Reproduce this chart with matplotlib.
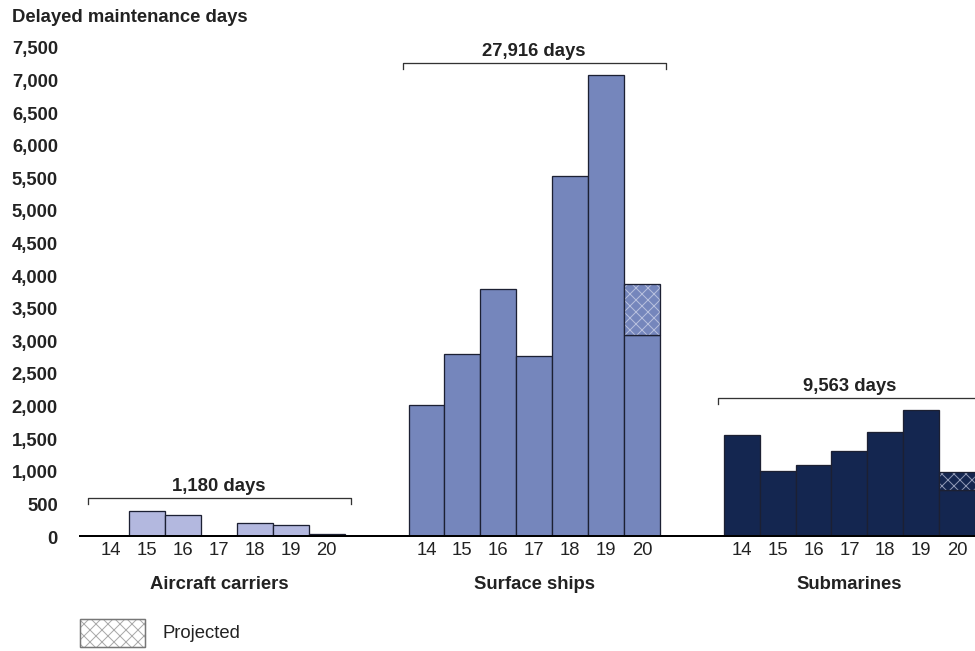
import numpy as np
import matplotlib.pyplot as plt
from matplotlib.patches import Rectangle

plt.rcParams["font.family"] = ["Liberation Sans", "DejaVu Sans"]

years = ["14", "15", "16", "17", "18", "19", "20"]
groups = ["Aircraft carriers", "Surface ships", "Submarines"]
totals = ["1,180 days", "27,916 days", "9,563 days"]

carriers = [0, 400, 340, 0, 210, 180, 50]
surface = [2030, 2800, 3810, 2770, 5530, 7090, 3100]
subs = [1560, 1015, 1110, 1320, 1605, 1955, 715]
# projected part stacked on the last year
carriers_proj = [0, 0, 0, 0, 0, 0, 0]
surface_proj = [0, 0, 0, 0, 0, 0, 786]
subs_proj = [0, 0, 0, 0, 0, 0, 283]

colors = ["#b3b8df", "#7586bc", "#142650"]
edge = "#1c2033"
hatch_col = ["#d6d9ee", "#b7bfdd", "#8f98b5"]

group_step = 8.78
bracket_y = [598, 7271, 2132]
label_y = [767, 7440, 2301]
fs = 18.5

fig = plt.figure(figsize=(975 / 72, 651 / 72), dpi=72)
ax = fig.add_axes([79 / 975, 1 - 537 / 651, 1 - 79 / 975, (537 - 48) / 651])

xt = []
for g, (vals, proj) in enumerate([(carriers, carriers_proj), (surface, surface_proj), (subs, subs_proj)]):
    x = np.arange(7) + g * group_step
    xt.extend(x)
    ax.bar(x, vals, width=1, color=colors[g], edgecolor=edge, linewidth=1.3, zorder=2)
    p = np.array(proj)
    m = p > 0
    if m.any():
        ax.bar(x[m], p[m], bottom=np.array(vals)[m], width=1, color=colors[g],
               edgecolor=hatch_col[g], hatch="xx", linewidth=0, zorder=2)
        ax.bar(x[m], p[m], bottom=np.array(vals)[m], width=1, fill=False,
               edgecolor=edge, linewidth=1.3, zorder=3)

    # bracket with total
    x0, x1 = x[0] - 0.65, x[-1] + 0.67
    by = bracket_y[g]
    ax.plot([x0, x0, x1, x1], [by - 92, by, by, by - 92], color="#333333", lw=1.3,
            clip_on=False, zorder=4)
    ax.text(x[3], label_y[g], totals[g], ha="center", va="center", fontsize=fs,
            fontweight="bold", color="#222222", clip_on=False)
    ax.text(x[3], -721, groups[g], ha="center", va="center", fontsize=fs,
            fontweight="bold", color="#222222", clip_on=False)

ax.axhline(0, color="black", lw=5, zorder=5)

ax.set_xlim(-0.9, -0.9 + 896 / 35.9)
ax.set_ylim(0, 7500)
ax.set_xticks(xt)
ax.set_xticklabels(years * 3, fontsize=fs, color="#222222")
yt = np.arange(0, 7501, 500)
ax.set_yticks(yt)
ax.set_yticklabels([f"{v:,}" for v in yt], fontsize=fs, fontweight="bold", color="#222222")
ax.tick_params(axis="x", length=0, pad=5)
ax.tick_params(axis="y", length=0, pad=21)
for s in ax.spines.values():
    s.set_visible(False)

fig.text(12 / 975, 1 - 17 / 651, "Delayed maintenance days", ha="left", va="center",
         fontsize=fs, fontweight="bold", color="#222222")

# legend
fig.patches.append(Rectangle((80 / 975, 1 - 647 / 651), 65 / 975, 28 / 651,
                             transform=fig.transFigure, facecolor="white",
                             edgecolor="#aaaaaa", hatch="xx", linewidth=1.2))
fig.patches.append(Rectangle((80 / 975, 1 - 647 / 651), 65 / 975, 28 / 651,
                             transform=fig.transFigure, fill=False,
                             edgecolor="#777777", linewidth=1.4))
fig.text(163 / 975, 1 - 634 / 651, "Projected", ha="left", va="center",
         fontsize=fs, color="#222222")

fig.savefig("out.png", dpi=72)
